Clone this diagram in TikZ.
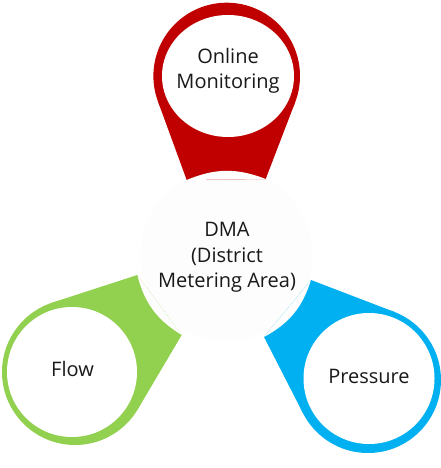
\documentclass[tikz,border=0pt]{standalone}
\usepackage{fontspec}
\setmainfont{Open Sans}
\usetikzlibrary{calc}
\definecolor{cred}{HTML}{C00000}
\definecolor{cgreen}{HTML}{92D050}
\definecolor{cblue}{HTML}{00B0F0}
\definecolor{cfaint}{HTML}{FDFDFD}
\tikzset{
  ring/.style={circle,inner sep=0pt,outer sep=0pt,draw=none},
  lbl/.style={font=\fontsize{20}{25.5}\selectfont,align=center,text=black!90},
}
\begin{document}
\begin{tikzpicture}[x=1pt,y=1pt]
\useasboundingbox (0,0) rectangle (440,468);
% central circle
\fill[cfaint] (226.5,213) circle (86);
% helper circles for tangents
\node[ring,minimum size=146.6pt] (rc) at (226.7,392) {};
\node[ring,minimum size=146pt] (gc) at (75,96) {};
\node[ring,minimum size=146pt] (bc) at (368,88) {};
% tips
\coordinate (r1) at (186.7,288);
\coordinate (r2) at (265.7,289);
\coordinate (g1) at (137.3,193);
\coordinate (g2) at (181.7,133);
\coordinate (b1) at (311,188);
\coordinate (b2) at (264,131);
% red drop
\fill[cred] (rc.center) circle (73.3);
\foreach \p in {r1,r2}{
  \fill[cred] (rc.center) -- (tangent cs:node=rc,point={(\p)},solution=1) -- (\p) -- (tangent cs:node=rc,point={(\p)},solution=2) -- cycle;}
\fill[cred] (rc.center) -- (r1) -- (r2) -- cycle;
\fill[cfaint] (r1) to[bend left=22] (r2) -- cycle;
% green drop
\fill[cgreen] (gc.center) circle (73);
\foreach \p in {g1,g2}{
  \fill[cgreen] (gc.center) -- (tangent cs:node=gc,point={(\p)},solution=1) -- (\p) -- (tangent cs:node=gc,point={(\p)},solution=2) -- cycle;}
\fill[cgreen] (gc.center) -- (g1) -- (g2) -- cycle;
\fill[cfaint] (g1) to[bend right=22] (g2) -- cycle;
% blue drop
\fill[cblue] (bc.center) circle (73);
\foreach \p in {b1,b2}{
  \fill[cblue] (bc.center) -- (tangent cs:node=bc,point={(\p)},solution=1) -- (\p) -- (tangent cs:node=bc,point={(\p)},solution=2) -- cycle;}
\fill[cblue] (bc.center) -- (b1) -- (b2) -- cycle;
\fill[cfaint] (b1) to[bend left=22] (b2) -- cycle;
% inner white discs
\fill[white] (228,392) ellipse (66 and 61);
\fill[white] (72,96) circle (65);
\fill[white] (369,89.5) circle (65.5);
% labels
\node[lbl] (online) at (228,397) {Online\\Monitoring};
\node[lbl] (dma) at (227,210.5) {DMA\\(District\\Metering Area)};
\node[lbl,anchor=base] (flow) at (72.5,91.3) {Flow};
\node[lbl,anchor=base] (pressure) at (369,84) {Pressure};
\end{tikzpicture}
\end{document}
